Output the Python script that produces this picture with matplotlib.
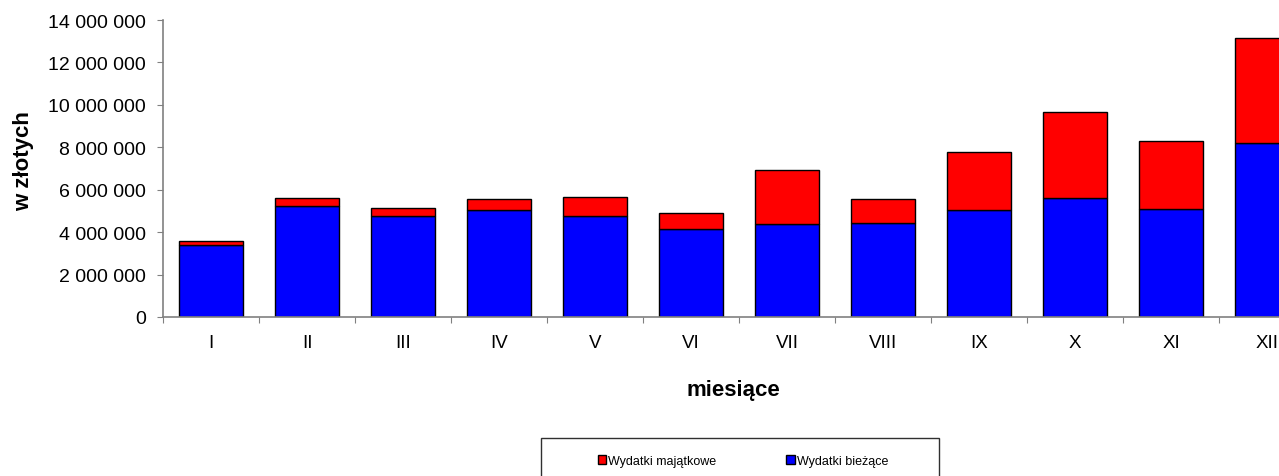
import matplotlib.pyplot as plt
import matplotlib.ticker as mticker
from matplotlib.patches import Rectangle

plt.rcParams['font.family'] = ['Liberation Sans', 'DejaVu Sans']

miesiace = ['I', 'II', 'III', 'IV', 'V', 'VI', 'VII', 'VIII', 'IX', 'X', 'XI', 'XII']
wydatki_biezace = [3380000, 5220000, 4760000, 5030000, 4760000, 4130000,
                   4370000, 4420000, 5040000, 5590000, 5090000, 8200000]
wydatki_razem = [3600000, 5590000, 5120000, 5560000, 5670000, 4890000,
                 6940000, 5560000, 7760000, 9680000, 8310000, 13150000]
wydatki_majatkowe = [r - b for r, b in zip(wydatki_razem, wydatki_biezace)]

W, H = 1279, 477
fig = plt.figure(figsize=(W / 100, H / 100), dpi=100)
ax = fig.add_axes([163 / W, 1 - 318 / H, 1152 / W, 297 / H])

x = range(len(miesiace))
ax.bar(x, wydatki_biezace, width=0.667, color='#0000ff', edgecolor='black',
       linewidth=1, label='Wydatki bieżące')
ax.bar(x, wydatki_majatkowe, bottom=wydatki_biezace, width=0.667, color='#ff0000',
       edgecolor='black', linewidth=1, label='Wydatki majątkowe')

ax.set_xlim(-0.5, len(miesiace) - 0.5)
ax.set_ylim(0, 14000000)
ax.yaxis.set_major_locator(mticker.MultipleLocator(2000000))
ax.yaxis.set_major_formatter(mticker.FuncFormatter(lambda v, p: f'{int(v):,}'.replace(',', ' ')))

ax.set_xticks([i - 0.5 for i in range(len(miesiace) + 1)])
ax.set_xticklabels([])
ax.set_xticks(list(x), minor=True)
ax.set_xticklabels(miesiace, minor=True)
ax.tick_params(axis='x', which='minor', length=0, pad=12.5, labelsize=13.5)
ax.tick_params(axis='x', which='major', length=4.3, color='#808080')
ax.tick_params(axis='y', length=4.3, color='#808080', labelsize=14, pad=8)

for s in ['top', 'right']:
    ax.spines[s].set_visible(False)
for s in ['left', 'bottom']:
    ax.spines[s].set_color('#808080')
    ax.spines[s].set_linewidth(1.2)

fig.text(24 / W, 1 - 161 / H, 'w złotych', rotation=90, fontsize=16,
         fontweight='bold', ha='center', va='center')
fig.text(733 / W, 1 - 391 / H, 'miesiące', fontsize=16, fontweight='bold',
         ha='center', va='center')

# ramka legendy
fig.patches.append(Rectangle((541 / W, -0.05), 398 / W, (1 - 439 / H) + 0.05,
                             transform=fig.transFigure, fill=False,
                             edgecolor='#303030', linewidth=1))
handles, labels = ax.get_legend_handles_labels()
fig.legend(handles[::-1], labels[::-1], loc='center', ncol=2, frameon=False,
           bbox_to_anchor=(743 / W, 1 - 462 / H), fontsize=9,
           handlelength=0.65, handleheight=0.65, handletextpad=0.2, columnspacing=5.6)

fig.savefig('out.png', dpi=100)
